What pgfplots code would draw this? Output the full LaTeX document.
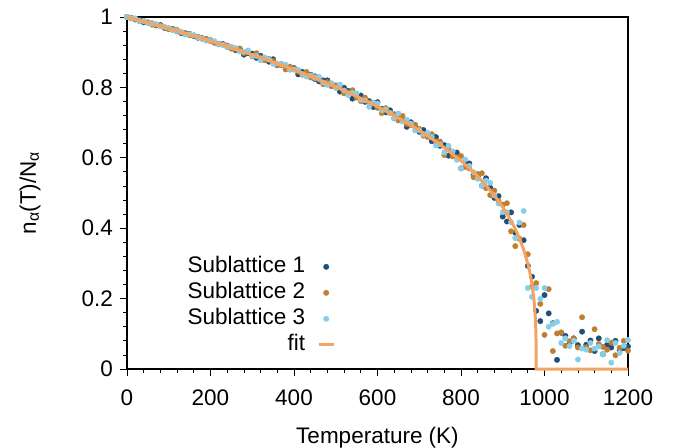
\documentclass[border=0pt]{standalone}
\usepackage{fontspec}
\setmainfont{Liberation Sans}
\usepackage{pgfplots}
\pgfplotsset{compat=1.18}
\definecolor{cA}{HTML}{1F4E79}
\definecolor{cB}{HTML}{C07F2F}
\definecolor{cC}{HTML}{87CEEB}
\definecolor{cF}{HTML}{F4A460}
\pgfplotsset{
  dotleg/.style={legend image code/.code={\draw[##1] plot coordinates {(7.5bp,0)};}},
  lineleg/.style={legend image code/.code={\draw[##1] (0,0) -- (15bp,0);}},
}
\begin{document}
\begin{tikzpicture}
\useasboundingbox (-127bp,-79bp) rectangle (546bp,369bp);
\begin{axis}[
  at={(0,0)}, anchor=south west,
  scale only axis, width=501bp, height=352bp,
  xmin=0, xmax=1200, ymin=0, ymax=1,
  clip=false, clip mode=individual,
  font=\fontsize{22.5bp}{27bp}\selectfont,
  /pgf/number format/assume math mode=true,
  /pgf/number format/fixed,
  /pgf/number format/1000 sep={},
  xtick={0,200,...,1200}, ytick={0,0.2,0.4,0.6,0.8,1},
  yticklabels={0,0.2,0.4,0.6,0.8,1},
  minor x tick num=4, minor y tick num=4,
  xtick pos=bottom, ytick pos=left,
  tick align=outside,
  major tick length=7bp, minor tick length=4bp,
  every tick/.style={black, line width=0.8bp},
  axis line style={line width=1.2bp},
  xticklabel style={inner sep=0pt, anchor=north, yshift=-14bp},
  yticklabel style={inner sep=0pt, anchor=east, xshift=-7bp},
  xlabel={Temperature (K)},
  every axis x label/.style={at={(axis description cs:0.5,0)}, anchor=base, yshift=-74bp},
  ylabel={n\textsubscript{α}(T)/N\textsubscript{α}},
  every axis y label/.style={at={(axis description cs:-0.1936,0.5)}, rotate=90, anchor=center},
  legend plot pos=right,
  legend cell align=right,
  legend style={draw=none, fill=none, at={(axis description cs:0.416,0.039)}, anchor=south east,
    inner sep=0pt, row sep=5.5bp, column sep=12bp,
    nodes={inner sep=0pt, text height=16bp, text depth=4.5bp}},
]
\addplot[only marks, mark=*, mark size=2.7bp, color=cA, mark options={fill=cA, draw=cA}, dotleg] coordinates {
(0,1.000)(10,.998)(20,.993)(30,.992)(40,.985)(50,.984)(60,.982)(70,.976)(80,.977)(90,.969)
(100,.967)(110,.966)(120,.959)(130,.954)(140,.954)(150,.952)(160,.946)(170,.941)(180,.940)(190,.934)
(200,.934)(210,.927)(220,.924)(230,.923)(240,.915)(250,.914)(260,.906)(270,.910)(280,.893)(290,.897)
(300,.896)(310,.884)(320,.890)(330,.880)(340,.873)(350,.880)(360,.863)(370,.866)(380,.859)(390,.851)
(400,.855)(410,.837)(420,.844)(430,.836)(440,.836)(450,.824)(460,.817)(470,.820)(480,.820)(490,.804)
(500,.801)(510,.788)(520,.799)(530,.790)(540,.768)(550,.775)(560,.777)(570,.759)(580,.761)(590,.744)
(600,.758)(610,.739)(620,.729)(630,.735)(640,.712)(650,.718)(660,.707)(670,.688)(680,.701)(690,.690)
(700,.674)(710,.679)(720,.663)(730,.647)(740,.659)(750,.634)(760,.636)(770,.606)(780,.611)(790,.615)
(800,.570)(810,.588)(820,.584)(830,.552)(840,.547)(850,.521)(860,.542)(870,.515)(880,.486)(890,.491)
(900,.433)(910,.419)(920,.445)(930,.387)(940,.409)(950,.366)(960,.293)(970,.262)(980,.165)(990,.136)
(1000,.210)(1010,.158)(1020,.130)(1030,.026)(1040,.103)(1050,.094)(1060,.072)(1070,.087)(1080,.068)(1090,.106)
(1100,.069)(1110,.081)(1120,.051)(1130,.087)(1140,.042)(1150,.069)(1160,.061)(1170,.080)(1180,.053)(1190,.059)(1200,.064)
};
\addlegendentry{Sublattice 1}
\addplot[only marks, mark=*, mark size=2.7bp, color=cB, mark options={fill=cB, draw=cB}, dotleg] coordinates {
(0,1.000)(10,.996)(20,.994)(30,.988)(40,.989)(50,.985)(60,.978)(70,.977)(80,.976)(90,.970)
(100,.965)(110,.965)(120,.963)(130,.956)(140,.953)(150,.948)(160,.948)(170,.944)(180,.938)(190,.938)
(200,.931)(210,.928)(220,.922)(230,.921)(240,.919)(250,.910)(260,.909)(270,.910)(280,.898)(290,.900)
(300,.888)(310,.897)(320,.885)(330,.877)(340,.881)(350,.875)(360,.863)(370,.863)(380,.851)(390,.859)
(400,.853)(410,.845)(420,.836)(430,.844)(440,.828)(450,.832)(460,.822)(470,.809)(480,.815)(490,.804)
(500,.806)(510,.800)(520,.783)(530,.786)(540,.792)(550,.771)(560,.761)(570,.771)(580,.757)(590,.756)
(600,.742)(610,.727)(620,.741)(630,.727)(640,.724)(650,.706)(660,.719)(670,.696)(680,.693)(690,.694)
(700,.682)(710,.663)(720,.659)(730,.667)(740,.647)(750,.646)(760,.608)(770,.627)(780,.604)(790,.601)
(800,.605)(810,.574)(820,.570)(830,.545)(840,.554)(850,.556)(860,.514)(870,.494)(880,.507)(890,.477)
(900,.467)(910,.471)(920,.391)(930,.349)(940,.370)(950,.409)(960,.326)(970,.234)(980,.244)(990,.185)
(1000,.097)(1010,.227)(1020,.051)(1030,.101)(1040,.104)(1050,.066)(1060,.079)(1070,.087)(1080,.061)(1090,.147)
(1100,.062)(1110,.053)(1120,.113)(1130,.071)(1140,.063)(1150,.055)(1160,.075)(1170,.039)(1180,.060)(1190,.080)(1200,.052)
};
\addlegendentry{Sublattice 2}
\addplot[only marks, mark=*, mark size=2.7bp, color=cC, mark options={fill=cC, draw=cC}, dotleg] coordinates {
(0,1.000)(10,.997)(20,.996)(30,.989)(40,.988)(50,.982)(60,.981)(70,.980)(80,.973)(90,.972)
(100,.969)(110,.962)(120,.960)(130,.958)(140,.950)(150,.951)(160,.948)(170,.942)(180,.939)(190,.933)
(200,.933)(210,.931)(220,.923)(230,.920)(240,.915)(250,.915)(260,.912)(270,.902)(280,.901)(290,.905)
(300,.890)(310,.889)(320,.877)(330,.885)(340,.879)(350,.867)(360,.868)(370,.866)(380,.864)(390,.851)
(400,.850)(410,.850)(420,.838)(430,.831)(440,.834)(450,.827)(460,.830)(470,.814)(480,.807)(490,.812)
(500,.798)(510,.808)(520,.791)(530,.778)(540,.784)(550,.783)(560,.765)(570,.763)(580,.745)(590,.756)
(600,.754)(610,.735)(620,.737)(630,.727)(640,.712)(650,.726)(660,.703)(670,.708)(680,.697)(690,.678)
(700,.678)(710,.667)(720,.671)(730,.659)(740,.635)(750,.638)(760,.615)(770,.634)(780,.618)(790,.594)
(800,.570)(810,.595)(820,.577)(830,.559)(840,.540)(850,.521)(860,.535)(870,.529)(880,.493)(890,.470)
(900,.446)(910,.445)(920,.417)(930,.372)(940,.416)(950,.449)(960,.230)(970,.205)(980,.230)(990,.199)
(1000,.230)(1010,.120)(1020,.128)(1030,.134)(1040,.074)(1050,.087)(1060,.065)(1070,.080)(1080,.027)(1090,.058)
(1100,.055)(1110,.074)(1120,.058)(1130,.064)(1140,.042)(1150,.082)(1160,.018)(1170,.074)(1180,.046)(1190,.066)(1200,.082)
};
\addlegendentry{Sublattice 3}
\addplot[no marks, color=cF, line width=3bp, lineleg] coordinates {
(0,1)(50,0.9839)(100,0.9672)(150,0.9498)(200,0.9317)(250,0.9127)(300,0.8929)(350,0.8720)
(400,0.8499)(450,0.8265)(500,0.8015)(550,0.7746)(600,0.7455)(650,0.7136)(700,0.6782)
(750,0.6381)(800,0.5914)(820,0.5702)(840,0.5470)(860,0.5215)(880,0.4928)(890,0.4770)
(900,0.4599)(910,0.4413)(920,0.4207)(930,0.3976)(940,0.3710)(950,0.3393)(960,0.2992)
(965,0.2737)(970,0.2414)(975,0.1947)(978,0.1466)(979,0.1182)(979.5,0.0954)(979.8,0.0718)
(980,0)(1200,0)
};
\addlegendentry{fit}
\end{axis}
\end{tikzpicture}
\end{document}
